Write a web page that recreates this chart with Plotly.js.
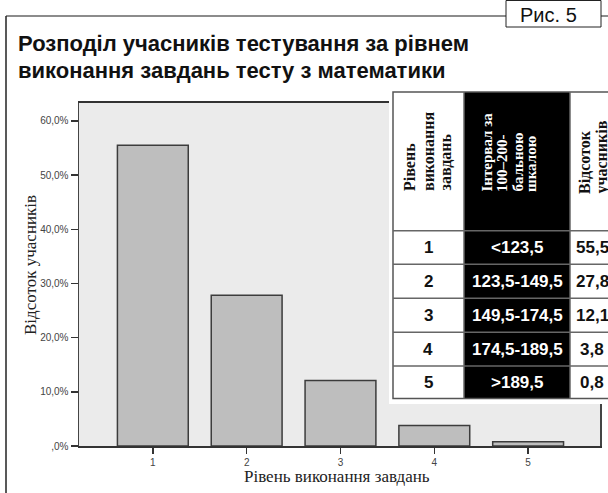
<!DOCTYPE html>
<html>
<head>
<meta charset="utf-8">
<script src="https://cdn.plot.ly/plotly-3.0.1.min.js"></script>
<style>
  html, body { margin: 0; padding: 0; background: #fff; }
  #chart { width: 608px; height: 493px; }
</style>
</head>
<body>
<div id="chart"></div>
<script>
// Performance levels and the share of participants at each level (%)
const levels = [1, 2, 3, 4, 5];
const shares = [55.5, 27.8, 12.1, 3.8, 0.8];
// Score intervals on the 100–200 scale for each level
const intervals = ['<123,5', '123,5-149,5', '149,5-174,5', '174,5-189,5', '>189,5'];
// Y axis ticks
const yTickVals = [0, 10, 20, 30, 40, 50, 60];
const yTickText = [',0%', '10,0%', '20,0%', '30,0%', '40,0%', '50,0%', '60,0%'];

const W = 608, H = 493;
const M = { l: 79, r: 8, t: 103, b: 47, autoexpand: false };
const plotW = W - M.l - M.r, plotH = H - M.t - M.b;
// pixel -> paper helpers for the decorations around the plot
const px = v => (v - M.l) / plotW;
const py = v => (H - M.b - v) / plotH;

const SANS = 'Liberation Sans, Arial, sans-serif';
const SERIF = 'Liberation Serif, Times New Roman, serif';
const fmt = v => v.toFixed(1).replace('.', ',');
const esc = s => s.replace('<', '&lt;').replace('>', '&gt;');

const shapes = [];
const ann = [];
const line = (x0, y0, x1, y1, color, w) => shapes.push({
  type: 'line', xref: 'paper', yref: 'paper', layer: 'above',
  x0: px(x0), y0: py(y0), x1: px(x1), y1: py(y1),
  line: { color: color, width: w }
});
const rect = (x0, y0, x1, y1, fill, color, w) => shapes.push({
  type: 'rect', xref: 'paper', yref: 'paper', layer: 'above',
  x0: px(x0), y0: py(y0), x1: px(x1), y1: py(y1),
  fillcolor: fill, line: { color: color, width: w }
});
const text = (t, x, y, opts) => ann.push(Object.assign({
  text: t, xref: 'paper', yref: 'paper', x: px(x), y: py(y),
  showarrow: false, xanchor: 'center', yanchor: 'middle',
  font: { family: SANS, size: 16, color: '#111' }
}, opts));

// page frame and figure label
line(6, 16, 506, 16, '#666', 1.5);
line(601, 16, 608, 16, '#666', 1.5);
line(6, 16, 6, 493, '#222', 1.5);
rect(506, 0.5, 601, 27, 'rgba(0,0,0,0)', '#222', 1);
text('Рис. 5', 548, 15, { font: { family: SANS, size: 20, color: '#111' } });

// heading
text('<b>Розподіл учасників тестування за рівнем</b>', 16, 43,
  { xanchor: 'left', font: { family: SANS, size: 22, color: '#111' } });
text('<b>виконання завдань тесту з математики</b>', 16, 70,
  { xanchor: 'left', font: { family: SANS, size: 22, color: '#111' } });

// axis titles
text('Відсоток учасників', 30, 265,
  { textangle: -90, font: { family: SERIF, size: 17, color: '#222' } });
text('Рівень виконання завдань', 337, 476,
  { font: { family: SERIF, size: 17, color: '#222' } });

// inset table
const tL = 393, tT = 92, tB = 398.5, tR = 640;
const c1 = 464, c2 = 570;
const rowLines = [230.7, 264.3, 298.3, 332.3, 366];
rect(389, 88, 612, 404, '#ffffff', 'rgba(0,0,0,0)', 0);
rect(c1, tT, c2, tB, '#000000', 'rgba(0,0,0,0)', 0);
rect(tL, tT, tR, tB, 'rgba(0,0,0,0)', '#555', 1.5);
line(c1, tT, c1, tB, '#666', 1.5);
line(c2, tT, c2, tB, '#666', 1.5);
rowLines.forEach(y => line(tL, y, tR, y, '#666', 1.5));

// rotated column headers
const hdr = (t, x, y, color, size) => text('<b>' + t + '</b>', x, y, {
  textangle: -90, yanchor: 'bottom',
  font: { family: SERIF, size: size, color: color }
});
hdr('Рівень', 409, 193, '#111', 16);
hdr('виконання', 428, 193, '#111', 16);
hdr('завдань', 445, 193, '#111', 16);
hdr('Інтервал за', 486, 194, '#fff', 15);
hdr('100–200-', 502, 194, '#fff', 15);
hdr('бальною', 517, 194, '#fff', 15);
hdr('шкалою', 531, 194, '#fff', 15);
hdr('Відсоток', 584, 196, '#111', 16);
hdr('учасників', 601, 196, '#111', 16);

// table rows built from the data arrays
const edges = rowLines.concat([tB]);
levels.forEach((lv, i) => {
  const yc = (edges[i] + edges[i + 1]) / 2;
  const f = c => ({ family: SANS, size: 17, color: c });
  text('<b>' + lv + '</b>', 428, yc, { font: f('#111') });
  text('<b>' + esc(intervals[i]) + '</b>', 517, yc, { font: f('#fff') });
  text('<b>' + fmt(shares[i]) + '</b>', 592, yc, { font: f('#111') });
});

const trace = {
  type: 'bar',
  x: levels,
  y: shares,
  width: 0.755,
  marker: { color: '#bebebe', line: { color: '#3c3c3c', width: 1.5 } },
  hoverinfo: 'skip'
};

const layout = {
  width: W, height: H,
  margin: M,
  paper_bgcolor: '#ffffff',
  plot_bgcolor: '#ebebeb',
  showlegend: false,
  font: { family: SANS },
  xaxis: {
    range: [0.213, 5.766],
    tickvals: levels,
    ticktext: levels.map(String),
    ticks: 'outside', ticklen: 6, tickwidth: 1.5, tickcolor: '#333',
    tickfont: { family: SANS, size: 10, color: '#444' },
    showgrid: false, zeroline: false,
    showline: true, linecolor: '#333', linewidth: 2, mirror: true,
    fixedrange: true
  },
  yaxis: {
    range: [0, 63.3],
    tickvals: yTickVals,
    ticktext: yTickText,
    ticks: 'outside', ticklen: 7, tickwidth: 1.5, tickcolor: '#333',
    tickfont: { family: SANS, size: 10, color: '#444' },
    showgrid: false, zeroline: false,
    showline: true, linecolor: '#444', linewidth: 1.5, mirror: true,
    fixedrange: true
  },
  shapes: shapes,
  annotations: ann
};

Plotly.newPlot('chart', [trace], layout, { staticPlot: true, displayModeBar: false });
</script>
</body>
</html>
